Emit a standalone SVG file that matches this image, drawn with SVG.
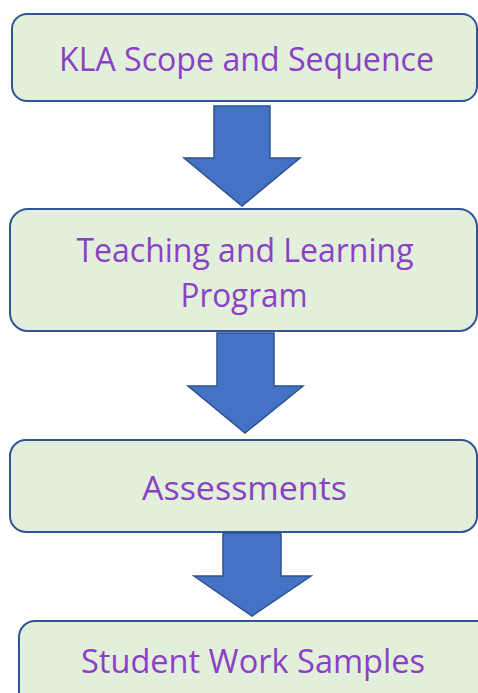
<svg xmlns="http://www.w3.org/2000/svg" width="478" height="693" viewBox="0 0 478 693">
<style>
.box{fill:#E2EFDA;stroke:#2F5597;stroke-width:2}
.arr{fill:#4472C4;stroke:#2F528F;stroke-width:1.5;stroke-linejoin:miter}
.t{font-family:"Open Sans","Noto Sans",sans-serif;font-size:32px;fill:#8B41C6;text-anchor:middle}
</style>
<rect width="478" height="693" fill="#FFFFFF"/>
<g id="connectors">
<polygon class="arr" points="214,106 270,106 270,158 300,158 242,206 184,158 214,158"/>
<polygon class="arr" points="217,333 274,333 274,386 303,386 245,433 188,386 217,386"/>
<polygon class="arr" points="223,533 281,533 281,576 311,576 252,616 194,576 223,576"/>
</g>
<g id="node1">
<rect class="box" x="12" y="14" width="465" height="87" rx="15"/>
<text class="t" x="246.5" y="71" textLength="375" lengthAdjust="spacingAndGlyphs">KLA Scope and Sequence</text>
</g>
<g id="node2">
<rect class="box" x="10" y="209" width="467" height="122" rx="18"/>
<text class="t" x="245" y="262" textLength="337" lengthAdjust="spacingAndGlyphs">Teaching and Learning</text>
<text class="t" x="244" y="307" textLength="127" lengthAdjust="spacingAndGlyphs">Program</text>
</g>
<g id="node3">
<rect class="box" x="10" y="440" width="467" height="92" rx="16"/>
<text class="t" x="244.5" y="500" textLength="205" lengthAdjust="spacingAndGlyphs">Assessments</text>
</g>
<g id="node4">
<rect class="box" x="19" y="621" width="480" height="100" rx="16"/>
<text class="t" x="253" y="673" textLength="344" lengthAdjust="spacingAndGlyphs">Student Work Samples</text>
</g>
</svg>
